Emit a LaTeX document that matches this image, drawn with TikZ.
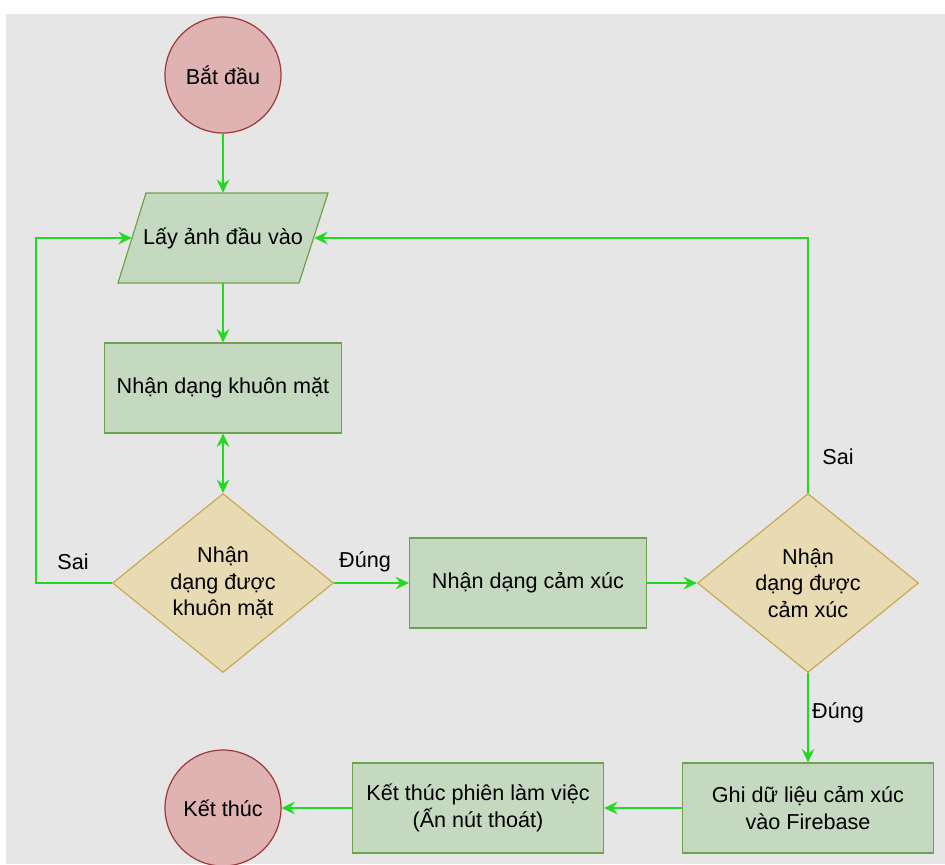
\documentclass[tikz,border=0pt]{standalone}
\usepackage{fontspec}
\setmainfont{Liberation Sans}
\usetikzlibrary{shapes.geometric,arrows.meta}

\definecolor{bgGray}{HTML}{E6E6E6}
\definecolor{termFill}{HTML}{E0B3B3}
\definecolor{termLine}{HTML}{9E3838}
\definecolor{procFill}{HTML}{C5D9C1}
\definecolor{procLine}{HTML}{6DA34F}
\definecolor{decFill}{HTML}{E8DAB3}
\definecolor{decLine}{HTML}{C9AA50}
\definecolor{flowGreen}{HTML}{22D922}

\tikzset{tip/.tip={Stealth[length=10pt,width=9.5pt,inset=3.5pt]}}

\begin{document}
\begin{tikzpicture}[x=0.75pt,y=-0.75pt,
    font=\fontsize{16.2}{20}\selectfont,
    every node/.style={text=black, align=center},
    terminal/.style={circle, draw=termLine, fill=termFill, line width=0.9pt,
        minimum size=87pt, inner sep=0pt},
    iobox/.style={rectangle, minimum width=136.5pt, minimum height=67.5pt, inner sep=0pt},
    process/.style={rectangle, draw=procLine, fill=procFill, line width=0.9pt,
        minimum width=177.75pt, minimum height=67.5pt},
    wideprocess/.style={process, minimum width=188.25pt},
    decision/.style={diamond, aspect=1.23, draw=decLine, fill=decFill, line width=0.9pt,
        minimum width=165.75pt, minimum height=134.25pt, inner sep=0pt},
    flow/.style={draw=flowGreen, line width=1.5pt, -tip}]

    % page and canvas
    \useasboundingbox (0,0) rectangle (945,864);
    \fill[white] (0,0) rectangle (945,864);
    \fill[bgGray] (6,14) rectangle (945,864);

    % input parallelogram, drawn under its text node
    \filldraw[draw=procLine, fill=procFill, line width=0.9pt]
        (146,193) -- (328,193) -- (299,283) -- (118,283) -- cycle;

    % shapes
    \node[terminal] (start) at (223,75) {Bắt đầu};
    \node[iobox] (input) at (223,238) {Lấy ảnh đầu vào};
    \node[process] (face) at (223,388) {Nhận dạng khuôn mặt};
    \node[decision] (chkface) at (223,583) {Nhận\\dạng được\\khuôn mặt};
    \node[process] (emo) at (528,583) {Nhận dạng cảm xúc};
    \node[decision] (chkemo) at (808,583) {Nhận\\dạng được\\cảm xúc};
    \node[wideprocess] (save) at (808,808) {Ghi dữ liệu cảm xúc\\vào Firebase};
    \node[wideprocess] (quit) at (478,808) {Kết thúc phiên làm việc\\(Ấn nút thoát)};
    \node[terminal] (stop) at (223,808) {Kết thúc};

    \coordinate (sailbend) at (36,583); % left loop corner

    % connectors
    \draw[flow] (start) -- (input);
    \draw[flow] (input) -- (face);
    \draw[flow, tip-tip] (face) -- (chkface);
    \draw[flow] (chkface) -- (emo);
    \draw[flow] (emo) -- (chkemo);
    \draw[flow] (chkface.west) -- (sailbend) |- (input.west);
    \draw[flow] (chkemo.north) |- (input.east);
    \draw[flow] (chkemo.south) -- (save.north);
    \draw[flow] (save) -- (quit);
    \draw[flow] (quit) -- (stop);

    % branch labels
    \node (sailL) at (73,562) {Sai};
    \node (dungL) at (365,562) {Đúng};
    \node (sailR) at (838,457) {Sai};
    \node (dungB) at (838,713) {Đúng};
\end{tikzpicture}
\end{document}
